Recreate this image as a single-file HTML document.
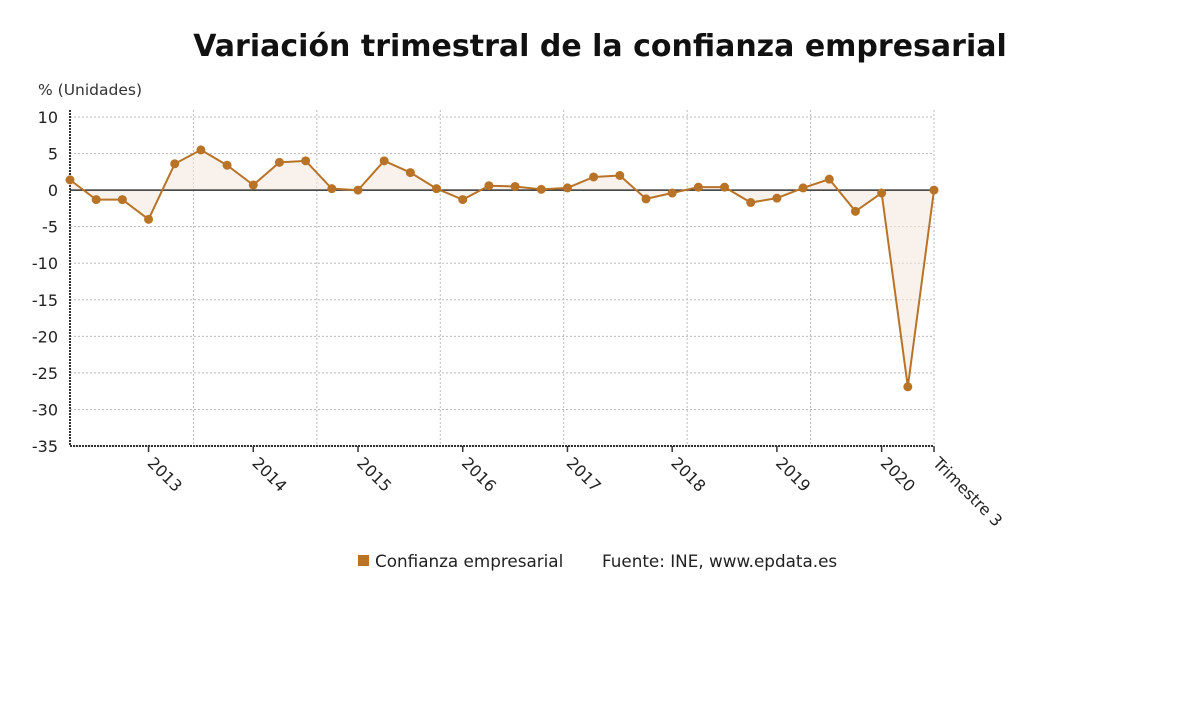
<!DOCTYPE html>
<html><head><meta charset="utf-8"><style>
body{margin:0;background:#fff;width:1200px;height:705px;overflow:hidden;font-family:"DejaVu Sans","Liberation Sans",sans-serif}
svg text{font-family:"DejaVu Sans","Liberation Sans",sans-serif}
</style></head><body>
<svg width="1200" height="705" viewBox="0 0 1200 705">
<text x="600" y="56" text-anchor="middle" font-size="30" font-weight="bold" fill="#111">Variación trimestral de la confianza empresarial</text>
<text x="38" y="95" font-size="15.5" fill="#333">% (Unidades)</text>
<g id="grid"></g><g id="area"></g><g id="axes"></g><g id="line"></g><g id="pts"></g><g id="xl"></g>
<g>
<rect x="358" y="555" width="11" height="11" fill="#b87327"/>
<text x="375" y="567" font-size="16.8" fill="#222">Confianza empresarial</text>
<text x="602" y="567" font-size="16.8" fill="#222">Fuente: INE, www.epdata.es</text>
</g>
</svg>
<script>
const values=[1.4,-1.3,-1.3,-4.0,3.6,5.5,3.4,0.7,3.8,4.0,0.2,0.0,4.0,2.4,0.2,-1.3,0.6,0.5,0.1,0.3,1.8,2.0,-1.2,-0.4,0.4,0.4,-1.7,-1.1,0.3,1.5,-2.9,-0.4,-26.9,0.0];
const yTicks=[10,5,0,-5,-10,-15,-20,-25,-30,-35];
const xLabels=["2013","2014","2015","2016","2017","2018","2019","2020","Trimestre 3"];
const xLabelIdx=[3,7,11,15,19,23,27,31,33];
const X0=70,X1=934,Y10=117,Ym35=446;
const x=i=>X0+i*(X1-X0)/(values.length-1);
const y=v=>Y10+(10-v)*(Ym35-Y10)/45;
const NS="http://www.w3.org/2000/svg";
function mk(t,a,p){const e=document.createElementNS(NS,t);for(const k in a)e.setAttribute(k,a[k]);p.appendChild(e);return e;}
const g=document.getElementById('grid');
yTicks.forEach(v=>{
 const l=mk('line',{x1:X0,x2:X1,y1:y(v),y2:y(v),stroke:'#bbb','stroke-dasharray':'2,2'},g);
 
 
 const t=mk('text',{x:58,y:y(v)+6,'text-anchor':'end','font-size':16,fill:'#222'},g);t.textContent=v;
 
 
});
for(let k=1;k<=7;k++){const xx=X0+k*(X1-X0)/7;
 const l=mk('line',{x1:xx,x2:xx,y1:110,y2:Ym35,stroke:'#bbb','stroke-dasharray':'2,2'},g);
 
 }
let d=`M${x(0)},${y(0)} `+values.map((v,i)=>`L${x(i)},${y(v)}`).join(' ')+` L${x(values.length-1)},${y(0)}Z`;
const ar=mk('path',{d:d,fill:'#f3e6dc','fill-opacity':0.55},document.getElementById('area'));


const ax=document.getElementById('axes');
const z=mk('line',{x1:X0,x2:X1,y1:y(0),y2:y(0),stroke:'#333','stroke-width':1.5},ax);


const ya=mk('line',{x1:X0,x2:X0,y1:110,y2:Ym35,stroke:'#333','stroke-width':2,'stroke-dasharray':'2,1'},ax);


const xa=mk('line',{x1:X0,x2:X1,y1:Ym35,y2:Ym35,stroke:'#333','stroke-width':2,'stroke-dasharray':'2,1'},ax);


const ln=mk('polyline',{points:values.map((v,i)=>x(i)+','+y(v)).join(' '),fill:'none',stroke:'#b87327','stroke-width':2},document.getElementById('line'));


const pg=document.getElementById('pts');
values.forEach((v,i)=>{const c=mk('circle',{cx:x(i),cy:y(v),r:4.5,fill:'#b87327'},pg);
 
 });
const xg=document.getElementById('xl');
xLabels.forEach((s,j)=>{const xx=x(xLabelIdx[j]);
 const tk=mk('line',{x1:xx,x2:xx,y1:Ym35,y2:Ym35+6,stroke:'#333','stroke-width':1.5},xg);
 
 
 const t=mk('text',{x:xx-2,y:Ym35+18,'font-size':16,fill:'#222',transform:`rotate(45 ${xx-2} ${Ym35+18})`},xg);t.textContent=s;
 
 });
</script>
</body></html>
